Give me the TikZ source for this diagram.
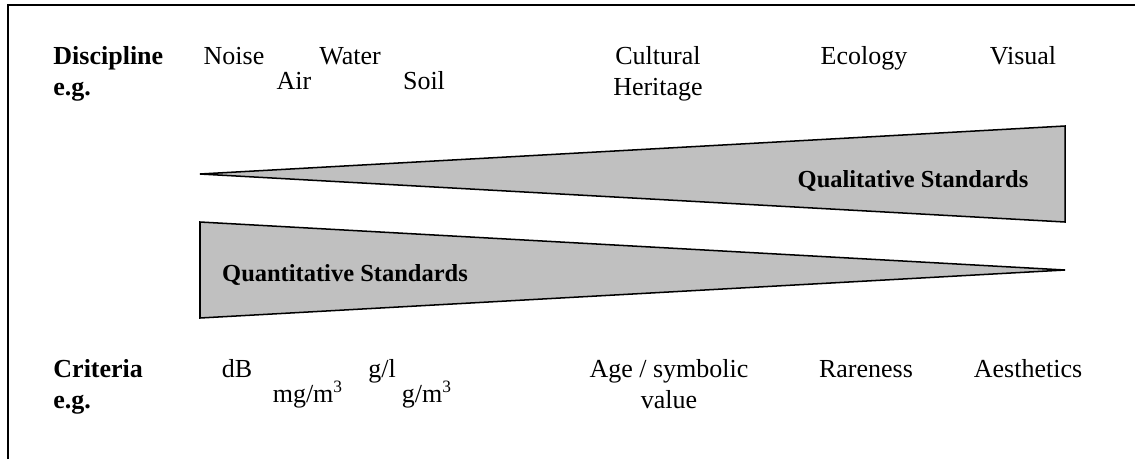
\documentclass[tikz,border=0pt]{standalone}
\usepackage{fontspec}
\setmainfont{Liberation Serif}
\definecolor{wedgegray}{RGB}{192,192,192}
\begin{document}
\begin{tikzpicture}[x=0.4615pt, y=-0.4615pt,
    lbl/.style={inner sep=0pt, anchor=base, font=\fontsize{12}{14.3}\selectfont},
    hd/.style={inner sep=0pt, anchor=base west, font=\fontsize{12}{14.3}\selectfont\bfseries},
    wlbl/.style={inner sep=0pt, anchor=base, font=\fontsize{11.3}{13.5}\selectfont\bfseries},
    wdg/.style={draw=black, line width=0.7pt, fill=wedgegray}]
        \def\rowa{64}
        \def\rowb{95}
        \def\rowc{377}
        \def\rowd{408}
        \useasboundingbox (0,0) rectangle (1135,459);

        % frame (open to the right and below)
        \draw[line width=0.9pt] (8,459) -- (8,5) -- (1135,5);

        % the two wedges
        \filldraw[wdg] (200,174) -- (1065,126) -- (1065,222) -- cycle;
        \filldraw[wdg] (200,222) -- (1065,270) -- (200,318) -- cycle;
        \node[wlbl] (qual) at (913,187) {Qualitative Standards};
        \node[wlbl] (quant) at (345,281) {Quantitative Standards};

        % disciplines
        \node[hd] (disc) at (53,\rowa) {Discipline};
        \node[hd] (disceg) at (53,\rowb) {e.g.};
        \node[lbl] (noise) at (234,\rowa) {Noise};
        \node[lbl] (air) at (294,89) {Air};
        \node[lbl] (water) at (350,\rowa) {Water};
        \node[lbl] (soil) at (424,89) {Soil};
        \node[lbl] (cult) at (658,\rowa) {Cultural};
        \node[lbl] (herit) at (658,\rowb) {Heritage};
        \node[lbl] (eco) at (864,\rowa) {Ecology};
        \node[lbl] (vis) at (1023,\rowa) {Visual};

        % criteria
        \node[hd] (crit) at (53,\rowc) {Criteria};
        \node[hd] (criteg) at (53,\rowd) {e.g.};
        \node[lbl] (db) at (237,\rowc) {dB};
        \node[lbl] (mgm) at (308,402) {mg/m\textsuperscript{3}};
        \node[lbl] (gl) at (382,\rowc) {g/l};
        \node[lbl] (gm) at (427,402) {g/m\textsuperscript{3}};
        \node[lbl] (age) at (669,\rowc) {Age / symbolic};
        \node[lbl] (val) at (669,\rowd) {value};
        \node[lbl] (rare) at (866,\rowc) {Rareness};
        \node[lbl] (aes) at (1028,\rowc) {Aesthetics};
\end{tikzpicture}
\end{document}
